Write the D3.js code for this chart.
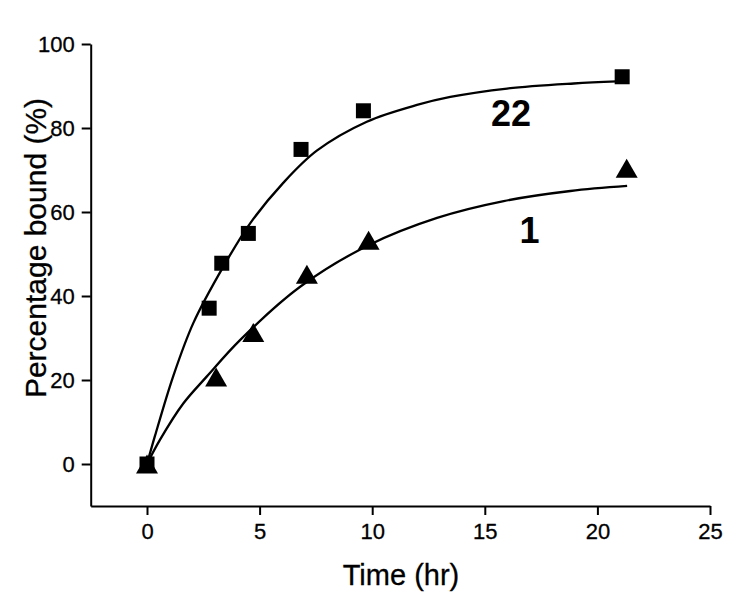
<!DOCTYPE html>
<html>
<head>
<meta charset="utf-8">
<script src="https://cdn.jsdelivr.net/npm/d3@7"></script>
<style>
  body { margin: 0; background: #ffffff; }
  svg { display: block; }
</style>
</head>
<body>
<svg id="Chart"></svg>
<script>
// measured points, compound 22 (squares) and compound 1 (triangles)
let time22 = [0, 2.76, 3.32, 4.5, 6.84, 9.61, 21.1]
let pct22 = [0, 37.1, 47.8, 54.9, 74.9, 84.1, 92.2]
let time1 = [0, 3.07, 4.72, 7.1, 9.84, 21.3]
let pct1 = [0, 20.7, 31.3, 45.2, 53.3, 70.4]

// fitted curves
let fitTime22 = [0, 0.36, 1.17, 2.06, 3.39, 4.58, 6.06, 7.54, 9.76, 11.99, 13.47, 15.99, 18.95, 20.87]
let fitPct22 = [0, 6.8, 21.0, 33.6, 47.0, 57.3, 67.0, 74.6, 81.5, 85.5, 87.4, 89.4, 90.6, 91.1]
let fitTime1 = [0, 0.58, 1.61, 2.65, 4.13, 6.8, 9.84, 12.88, 15.84, 18.8, 21.32]
let fitPct1 = [0, 5.8, 14.4, 20.8, 29.5, 42.2, 52.1, 58.6, 62.6, 65.0, 66.2]

let xMajorTicks = [0, 5, 10, 15, 20, 25]
let xMinorTicks = [-2.5, 2.5, 7.5, 12.5, 17.5, 22.5]
let yMajorTicks = [0, 20, 40, 60, 80, 100]
let yMinorTicks = [-10, 10, 30, 50, 70, 90]

let seriesLabels = [
    {text: "22", t: 16.16, v: 80.5},
    {text: "1", t: 16.99, v: 52.6}
]

let config = {}

function initConfig() {
    let width = 750
    let height = 614
    let fontFamily = "'Liberation Sans', Arial, sans-serif"
    let container = d3.select("#Chart")
        .attr("width", width)
        .attr("height", height)
    let x = d3.scaleLinear().domain([-2.5, 25]).range([90.7, 710])
    let y = d3.scaleLinear().domain([-10, 100]).range([506, 44])
    config = {width, height, fontFamily, container, x, y}
}

function drawAxes() {
    let {container, x, y, fontFamily} = config

    let gx = container.append("g").attr("transform", `translate(0,${y(-10)})`)
    gx.call(d3.axisBottom(x).tickValues(xMinorTicks).tickSize(5).tickSizeOuter(0).tickFormat(""))
    gx.call(d3.axisBottom(x).tickValues(xMajorTicks).tickSize(9).tickSizeOuter(0).tickPadding(8))

    let gy = container.append("g").attr("transform", `translate(${x(-2.5)},0)`)
    gy.call(d3.axisLeft(y).tickValues(yMinorTicks).tickSize(5).tickSizeOuter(0).tickFormat(""))
    gy.call(d3.axisLeft(y).tickValues(yMajorTicks).tickSize(9).tickSizeOuter(0).tickPadding(7))

    container.selectAll(".domain, .tick line")
        .attr("stroke", "#000")
        .attr("stroke-width", 2)
    container.selectAll(".tick text")
        .attr("font-family", fontFamily)
        .attr("font-size", "22px")
        .attr("fill", "#000")
        .attr("stroke", "#000")
        .attr("stroke-width", 0.3)

    container.append("text")
        .attr("x", 401)
        .attr("y", 585)
        .attr("text-anchor", "middle")
        .attr("font-family", fontFamily)
        .attr("font-size", "29px")
        .attr("stroke", "#000")
        .attr("stroke-width", 0.3)
        .text("Time (hr)")

    container.append("text")
        .attr("transform", "translate(46,248) rotate(-90)")
        .attr("text-anchor", "middle")
        .attr("font-family", fontFamily)
        .attr("font-size", "30px")
        .attr("stroke", "#000")
        .attr("stroke-width", 0.3)
        .text("Percentage bound (%)")
}

function drawCurves() {
    let {container, x, y} = config
    let line = d3.line()
        .x(d => x(d[0]))
        .y(d => y(d[1]))
        .curve(d3.curveCatmullRom.alpha(0.5))

    let fits = [d3.zip(fitTime22, fitPct22), d3.zip(fitTime1, fitPct1)]
    container.selectAll("path.fit").data(fits)
        .enter().append("path")
        .attr("class", "fit")
        .attr("d", d => line(d))
        .attr("fill", "none")
        .attr("stroke", "#000")
        .attr("stroke-width", 2.3)
}

function drawPoints() {
    let {container, x, y} = config
    let side = 15
    container.selectAll("rect.pt22").data(d3.zip(time22, pct22))
        .enter().append("rect")
        .attr("class", "pt22")
        .attr("x", d => x(d[0]) - side / 2)
        .attr("y", d => y(d[1]) - side / 2)
        .attr("width", side)
        .attr("height", side)
        .attr("fill", "#000")

    // triangle centred on its bounding box, like the original plot
    let tw = 22, th = 19
    container.selectAll("path.pt1").data(d3.zip(time1, pct1))
        .enter().append("path")
        .attr("class", "pt1")
        .attr("d", d => {
            let cx = x(d[0]), cy = y(d[1])
            return `M${cx},${cy - th / 2}L${cx + tw / 2},${cy + th / 2}L${cx - tw / 2},${cy + th / 2}Z`
        })
        .attr("fill", "#000")
}

function drawLabels() {
    let {container, x, y, fontFamily} = config
    container.selectAll("text.series").data(seriesLabels)
        .enter().append("text")
        .attr("class", "series")
        .attr("x", d => x(d.t))
        .attr("y", d => y(d.v))
        .attr("text-anchor", "middle")
        .attr("font-family", fontFamily)
        .attr("font-weight", "bold")
        .attr("font-size", "36px")
        .text(d => d.text)
}

function init() {
    initConfig()
    drawAxes()
    drawCurves()
    drawPoints()
    drawLabels()
}

window.addEventListener("load", init)
</script>
</body>
</html>
